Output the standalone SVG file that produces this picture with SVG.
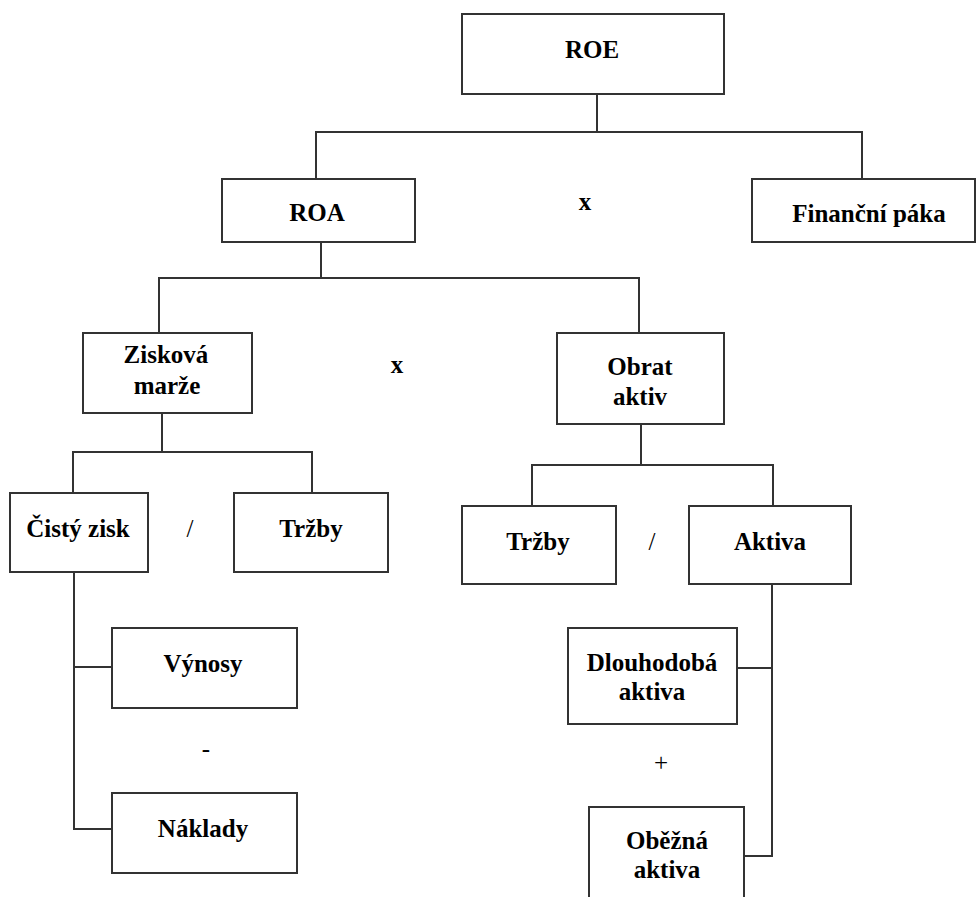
<svg xmlns="http://www.w3.org/2000/svg" width="977" height="897" viewBox="0 0 977 897">
<style>
.box{fill:#fff;stroke:#333;stroke-width:2}
.c{fill:none;stroke:#333;stroke-width:2}
text{font-family:"Liberation Serif","Times New Roman",serif;font-weight:bold;font-size:25px;fill:#000;text-anchor:middle}
.op{font-weight:normal}
</style>
<rect width="977" height="897" fill="#fff"/>
<g id="connectors">
<path class="c" d="M597 94V132M316 179V132H862V179"/>
<path class="c" d="M321 242V278M159 333V278H639V333"/>
<path class="c" d="M162 413V452M73 493V452H312V493"/>
<path class="c" d="M641 424V465M532 506V465H773V506"/>
<path class="c" d="M74 572V829H112M74 667H112"/>
<path class="c" d="M772 584V856H744M772 668H737"/>
</g>
<g id="roe"><rect class="box" x="462" y="14" width="262" height="80"/><text x="592" y="58">ROE</text></g>
<g id="roa"><rect class="box" x="222" y="179" width="193" height="63"/><text x="317" y="221">ROA</text></g>
<g id="op1"><text x="585" y="210">x</text></g>
<g id="financni-paka"><rect class="box" x="752" y="179" width="223" height="63"/><text x="869" y="222">Finanční páka</text></g>
<g id="ziskova-marze"><rect class="box" x="83" y="333" width="169" height="80"/><text x="166" y="363">Zisková</text><text x="167" y="394">marže</text></g>
<g id="op2"><text x="397" y="373">x</text></g>
<g id="obrat-aktiv"><rect class="box" x="557" y="333" width="167" height="91"/><text x="640" y="375">Obrat</text><text x="640" y="405">aktiv</text></g>
<g id="cisty-zisk"><rect class="box" x="10" y="493" width="138" height="79"/><text x="78" y="537">Čistý zisk</text></g>
<g id="op3"><text class="op" x="190" y="537">/</text></g>
<g id="trzby1"><rect class="box" x="234" y="493" width="154" height="79"/><text x="311" y="537">Tržby</text></g>
<g id="trzby2"><rect class="box" x="462" y="506" width="154" height="78"/><text x="538" y="550">Tržby</text></g>
<g id="op4"><text class="op" x="652" y="550">/</text></g>
<g id="aktiva"><rect class="box" x="689" y="506" width="162" height="78"/><text x="770" y="550">Aktiva</text></g>
<g id="vynosy"><rect class="box" x="112" y="628" width="185" height="80"/><text x="203" y="672">Výnosy</text></g>
<g id="op5"><text class="op" x="206" y="757">-</text></g>
<g id="naklady"><rect class="box" x="112" y="793" width="185" height="80"/><text x="203" y="837">Náklady</text></g>
<g id="dlouhodoba-aktiva"><rect class="box" x="568" y="628" width="169" height="96"/><text x="652" y="671">Dlouhodobá</text><text x="652" y="700">aktiva</text></g>
<g id="op6"><text class="op" x="661" y="771">+</text></g>
<g id="obezna-aktiva"><rect class="box" x="589" y="807" width="155" height="100"/><text x="667" y="849">Oběžná</text><text x="667" y="878">aktiva</text></g>
</svg>
